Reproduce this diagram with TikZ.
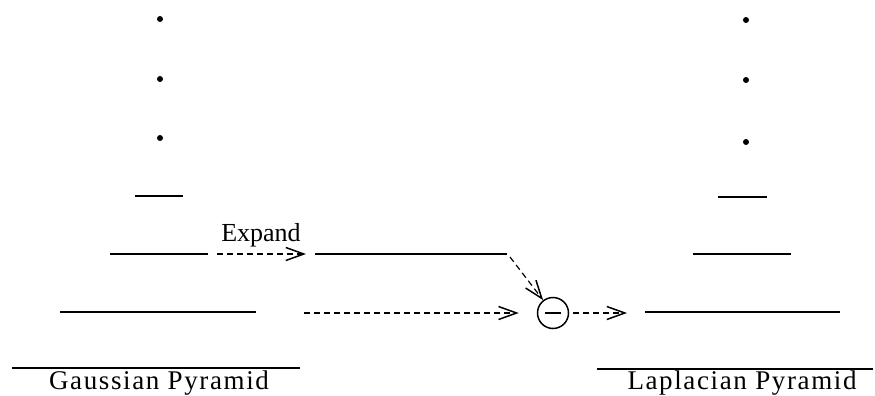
\documentclass[tikz,border=0pt]{standalone}
\usepackage{fontspec}
\setmainfont{Liberation Serif}
\newfontfamily\spacedserif[LetterSpace=6]{Liberation Serif}
\usetikzlibrary{arrows.meta}
\begin{document}
\begin{tikzpicture}[x=1pt,y=-1pt,
  level/.style={line width=1.5pt},
  flow/.style={line width=1.2pt,dash pattern=on 6pt off 4pt,
    -{Straight Barb[length=18pt,width=13pt,line width=1.5pt]}},
  dotmark/.style={circle,fill=black,inner sep=0pt,minimum size=6pt},
  title/.style={font=\fontsize{27}{30}\spacedserif,anchor=base,inner sep=0pt},
  opnode/.style={circle,draw,line width=1.5pt,minimum size=31pt,inner sep=0pt}]
\useasboundingbox (0,0) rectangle (875,396);

% Gaussian pyramid levels
\node[dotmark] (gd1) at (160,19) {};
\node[dotmark] (gd2) at (160,79) {};
\node[dotmark] (gd3) at (160,138) {};
\draw[level] (135,196) coordinate (g3a) -- (183,196) coordinate (g3b);
\draw[level] (110,254) coordinate (g2a) -- (208,254) coordinate (g2b);
\draw[level] (60,312) coordinate (g1a) -- (256,312) coordinate (g1b);
\draw[level] (12,368) -- (300,368);
\node[title] (gtitle) at (159,389) {Gaussian Pyramid};

% expanded copy of the coarser level
\coordinate (e1) at (217,254);
\coordinate (e2) at (306,254);
\node[font=\fontsize{26}{30}\selectfont,anchor=base,inner sep=0pt] (explabel) at (261,241) {Expand};
\draw[flow] (e1) -- (e2);
\draw[level] (315,254) coordinate (x1) -- (507,254) coordinate (x2);

% difference
\node[opnode] (minus) at (553,313) {};
\draw[line width=2pt] (545,313) -- (561,313);
\coordinate (d1) at (304,313);
\draw[flow] (d1) -- ([xshift=-18pt]minus.west);
\coordinate (x2s) at (510,257);
\draw[flow] (x2s) -- (minus);
\coordinate (o2) at (627,313);
\draw[flow] ([xshift=4pt]minus.east) -- (o2);

% Laplacian pyramid levels
\node[dotmark] (ld1) at (746,20) {};
\node[dotmark] (ld2) at (746,80) {};
\node[dotmark] (ld3) at (746,142) {};
\draw[level] (718,197) -- (767,197);
\draw[level] (693,254) -- (791,254);
\draw[level] (645,312) -- (840,312);
\draw[level] (597,369) -- (873,369);
\node[title] (ltitle) at (742,389) {Laplacian Pyramid};
\end{tikzpicture}
\end{document}
